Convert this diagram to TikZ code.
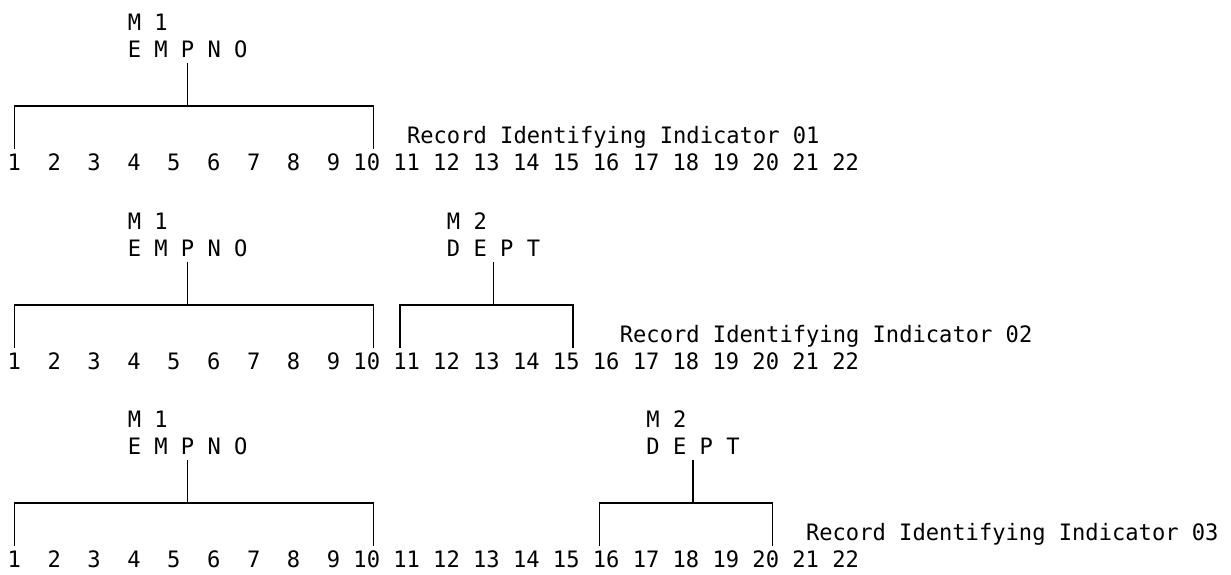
\documentclass[tikz,border=0pt]{standalone}
\usepackage{fontspec}
\newfontfamily\rmono{DejaVu Sans Mono}[FakeStretch=0.978]
\usetikzlibrary{calc}
\begin{document}
\begin{tikzpicture}[x=0.5pt,y=-0.5pt,
  every node/.style={inner sep=0pt, font=\rmono\fontsize{11.3}{13}\selectfont},
  bracket/.style={line width=0.8pt, black},
  lbl/.style={anchor=base west},
  num/.style={anchor=base}]
\useasboundingbox (0,0) rectangle (1231,574);
% number rows
\foreach \r/\dy in {1/0,2/199,3/397}{
  \foreach \k in {1,...,22}{
    \pgfmathsetmacro\cc{\k<10 ? 3*\k-2 : 3*\k-2.5}
    \pgfmathsetmacro\xx{14.3+(\cc-1)*13.3}
    \pgfmathsetmacro\yy{170+\dy}
    \node[num] (n\r-\k) at (\xx,\yy) {\k};
  }
}
% levels
\coordinate (s1) at (0,63);  \coordinate (h1) at (0,106); \coordinate (v1) at (0,149);
\coordinate (s2) at (0,262); \coordinate (h2) at (0,305); \coordinate (v2) at (0,348);
\coordinate (s3) at (0,460); \coordinate (h3) at (0,503); \coordinate (v3) at (0,546);
% row 1
\node[lbl] (m1a) at (127.35,30) {M 1};
\node[lbl] (e1a) at (127.35,57.5) {E M P N O};
\node[lbl] (rec1) at (406.65,143) {Record Identifying Indicator 01};
\draw[bracket] (e1a.center |- s1) -- (e1a.center |- h1);
\draw[bracket] (n1-1.center |- v1) -- (n1-1.center |- h1)
  -- ($(n1-10.center |- h1)+(6.65,0)$) -- ($(n1-10.center |- v1)+(6.65,0)$);
% row 2
\node[lbl] (m1b) at (127.35,229) {M 1};
\node[lbl] (e1b) at (127.35,256.5) {E M P N O};
\node[lbl] (m2b) at (446.55,229) {M 2};
\node[lbl] (d2b) at (446.55,256.5) {D E P T};
\node[lbl] (rec2) at (619.45,342) {Record Identifying Indicator 02};
\draw[bracket] (e1b.center |- s2) -- (e1b.center |- h2);
\draw[bracket] (n2-1.center |- v2) -- (n2-1.center |- h2)
  -- ($(n2-10.center |- h2)+(6.65,0)$) -- ($(n2-10.center |- v2)+(6.65,0)$);
\draw[bracket] (d2b.center |- s2) -- (d2b.center |- h2);
\draw[bracket] ($(n2-11.center |- v2)+(-6.65,0)$) -- ($(n2-11.center |- h2)+(-6.65,0)$)
  -- ($(n2-15.center |- h2)+(6.65,0)$) -- ($(n2-15.center |- v2)+(6.65,0)$);
% row 3
\node[lbl] (m1c) at (127.35,427) {M 1};
\node[lbl] (e1c) at (127.35,454.5) {E M P N O};
\node[lbl] (m2c) at (646.05,427) {M 2};
\node[lbl] (d2c) at (646.05,454.5) {D E P T};
\node[lbl] (rec3) at (805.65,540) {Record Identifying Indicator 03};
\draw[bracket] (e1c.center |- s3) -- (e1c.center |- h3);
\draw[bracket] (n3-1.center |- v3) -- (n3-1.center |- h3)
  -- ($(n3-10.center |- h3)+(6.65,0)$) -- ($(n3-10.center |- v3)+(6.65,0)$);
\draw[bracket] (d2c.center |- s3) -- (d2c.center |- h3);
\draw[bracket] ($(n3-16.center |- v3)+(-6.65,0)$) -- ($(n3-16.center |- h3)+(-6.65,0)$)
  -- ($(n3-20.center |- h3)+(6.65,0)$) -- ($(n3-20.center |- v3)+(6.65,0)$);
\end{tikzpicture}
\end{document}
